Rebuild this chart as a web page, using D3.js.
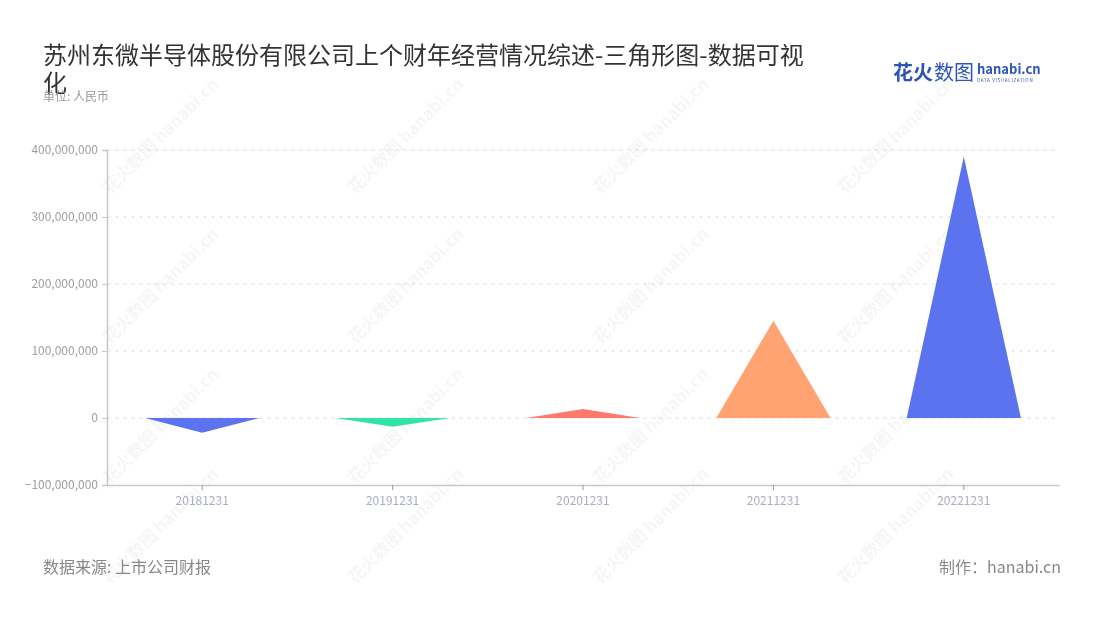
<!DOCTYPE html>
<html><head><meta charset="utf-8">
<script src="https://cdn.jsdelivr.net/npm/d3@7"></script>
<style>body{margin:0;background:#fff;} text{font-family:"Noto Sans CJK SC","Noto Sans",sans-serif;}</style>
</head><body>
<svg id="c" width="1100" height="620"></svg>
<script>
const categories = ["20181231","20191231","20201231","20211231","20221231"];
const values = [-22000000,-13000000,13500000,145000000,390000000];
const colors = ["#5b73ee","#30e3a9","#fd7a6e","#ffa372","#5b73ee"];
const yTicks = [-100000000,0,100000000,200000000,300000000,400000000];
const titleLines = ["苏州东微半导体股份有限公司上个财年经营情况综述-三角形图-数据可视","化"];

const svg = d3.select("#c");
const m = {l:107, r:1059, t:150, b:485};
const x = d3.scaleBand().domain(categories).range([m.l, m.r]);
const y = d3.scaleLinear().domain([-100000000, 400000000]).range([m.b, m.t]);

// watermarks
const wm = svg.append("g").attr("opacity",0.045);
[165,410,655,900].forEach(cx=>{[140,290,430,530].forEach(cy=>{
  const g = wm.append("g").attr("transform",`translate(${cx},${cy}) rotate(-45)`);
  g.append("text").attr("font-size",17).attr("font-weight","bold").attr("fill","#333").attr("text-anchor","middle").text("花火数图 hanabi.cn");
});});

// grid
svg.append("g").selectAll("line").data(yTicks.filter(d=>d>-100000000)).join("line")
  .attr("x1",m.l).attr("x2",m.r).attr("y1",d=>y(d)).attr("y2",d=>y(d))
  .attr("stroke","#e0e0e0").attr("stroke-dasharray","4,4");

// axes
const fmt = d3.format(",");
const ya = svg.append("g").attr("transform",`translate(${m.l},0)`)
  .call(d3.axisLeft(y).tickValues(yTicks).tickFormat(d=>fmt(d)).tickSize(5).tickPadding(4));
ya.select(".domain").attr("stroke","#c8c8c8").attr("stroke-width",1.5);
ya.selectAll(".tick line").attr("stroke","#c8c8c8");
ya.selectAll("text").attr("fill","#a0a0a0").attr("font-size",12).attr("font-family","'Noto Sans',sans-serif");

const xa = svg.append("g").attr("transform",`translate(0,${m.b})`)
  .call(d3.axisBottom(x).tickSize(5).tickPadding(6).tickSizeOuter(0));
xa.select(".domain").attr("stroke","#c8c8c8").attr("stroke-width",1.5);
xa.selectAll(".tick line").attr("stroke","#999");
xa.selectAll("text").attr("fill","#a8aebf").attr("font-size",12).attr("font-family","'Noto Sans',sans-serif");

// triangles
const tw = x.bandwidth()*0.6;
svg.append("g").selectAll("path").data(categories).join("path")
  .attr("d",(c,i)=>{const cx=x(c)+x.bandwidth()/2; const y0=y(0), y1=y(values[i]);
    return `M${cx-tw/2},${y0}L${cx},${y1}L${cx+tw/2},${y0}Z`;})
  .attr("fill",(c,i)=>colors[i]);

// title
const t = svg.append("text").attr("x",43).attr("y",64).attr("font-size",24).attr("fill","#333");
titleLines.forEach((l,i)=>t.append("tspan").attr("x",43).attr("y",64+i*28).text(l));
svg.append("text").attr("x",43).attr("y",101).attr("font-size",12).attr("fill","#999").text("单位: 人民币");

// logo
svg.append("text").attr("x",893).attr("y",80).attr("font-size",20).attr("font-weight","bold").attr("fill","#2d55b5").text("花火");
svg.append("text").attr("x",934).attr("y",80).attr("font-size",20).attr("fill","#2d55b5").text("数图");
svg.append("text").attr("x",977).attr("y",74).attr("font-size",13).attr("font-weight","bold").attr("fill","#2d55b5").attr("font-family","'Noto Sans',sans-serif").text("hanabi.cn");
svg.append("text").attr("x",977).attr("y",82).attr("font-size",4.5).attr("fill","#2d55b5").attr("font-family","'Noto Sans',sans-serif").attr("letter-spacing",0.7).text("DATA VISUALIZATION");

// footer
svg.append("text").attr("x",43).attr("y",573).attr("font-size",16).attr("fill","#888").text("数据来源: 上市公司财报");
svg.append("text").attr("x",1061).attr("y",573).attr("font-size",16).attr("fill","#888").attr("text-anchor","end").text("制作：hanabi.cn");
</script>
</body></html>
